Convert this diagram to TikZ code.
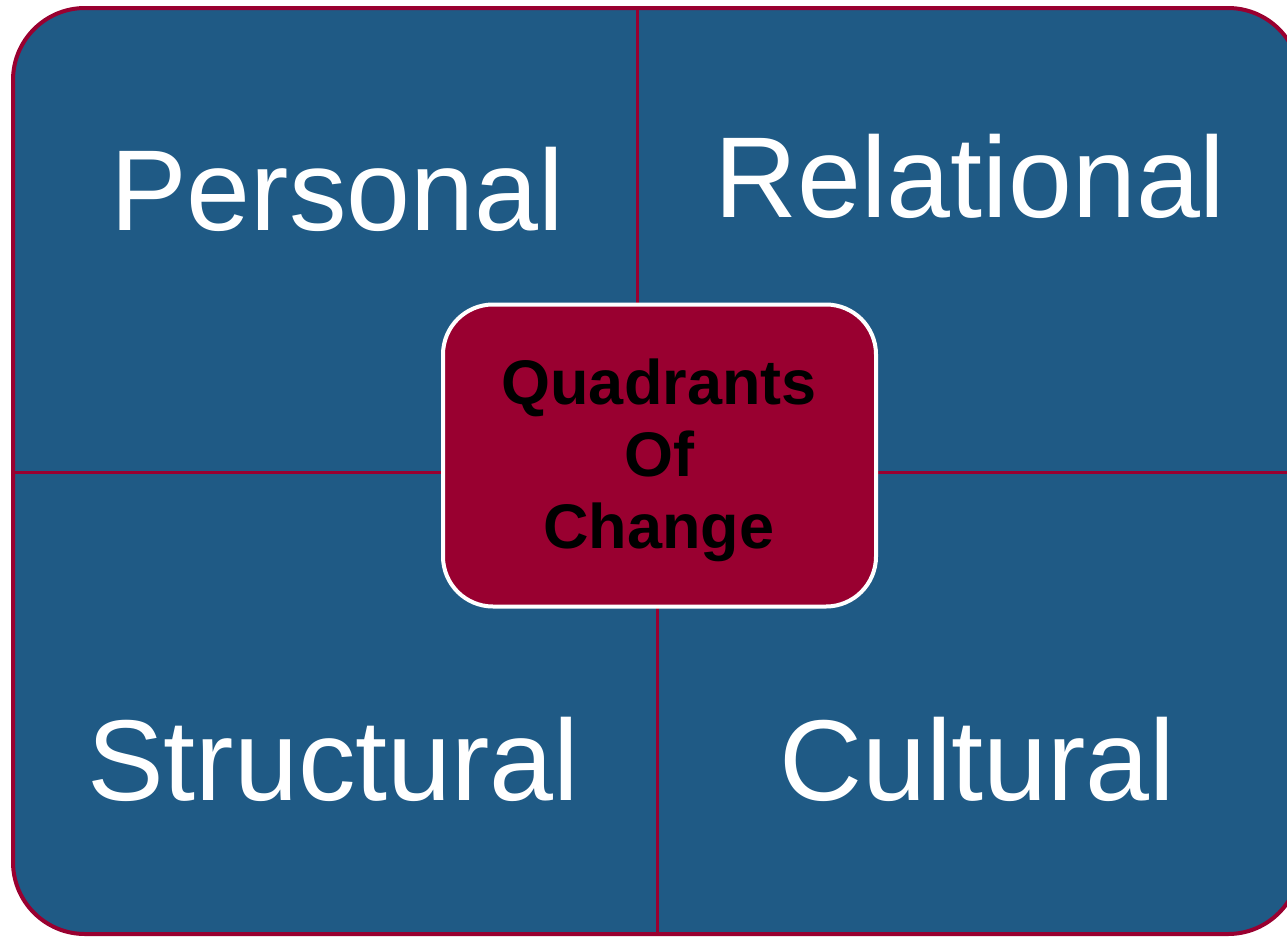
\documentclass[tikz,border=0pt]{standalone}
\usepackage{fontspec}
\setmainfont{Liberation Sans}
\definecolor{qblue}{HTML}{1F5A85}
\definecolor{qred}{HTML}{990030}
\begin{document}
\begin{tikzpicture}[x=1pt,y=-1pt,
  bigtext/.style={text=white,font=\fontsize{115}{120}\selectfont,anchor=base west,inner sep=0pt},
  divider/.style={draw=qred,line width=3pt}]
\useasboundingbox (0,0) rectangle (1287,937);
\clip (0,0) rectangle (1287,937);
\fill[white] (0,0) rectangle (1287,937);
\draw[fill=qblue,draw=qred,line width=4pt,rounded corners=72pt] (13,8) rectangle (1300,934);
% divider endpoints
\coordinate (topend) at (637,8);
\coordinate (topmid) at (637,305);
\coordinate (botmid) at (657,606);
\coordinate (botend) at (657,934);
\coordinate (leftend) at (13,472);
\coordinate (leftmid) at (443,472);
\coordinate (rightmid) at (876,472);
\coordinate (rightend) at (1300,472);
\draw[divider] (topend) -- (topmid);
\draw[divider] (botmid) -- (botend);
\draw[divider] (leftend) -- (leftmid);
\draw[divider] (rightmid) -- (rightend);
\node[draw=white,fill=qred,line width=4pt,rounded corners=50pt,minimum width=433pt,minimum height=302pt,inner sep=0pt] (center) at (659.5,455.5) {};
\node[font=\bfseries\fontsize{63}{72}\selectfont,align=center,text=black,inner sep=0pt] (ctext) at (659,460) {Quadrants\\Of\\Change};
\node[bigtext] (personal) at (110,230) {Personal};
\node[bigtext] (relational) at (714,217) {Relational};
\node[bigtext] (structural) at (87,800) {Structural};
\node[bigtext] (cultural) at (779,800) {Cultural};
\end{tikzpicture}
\end{document}
